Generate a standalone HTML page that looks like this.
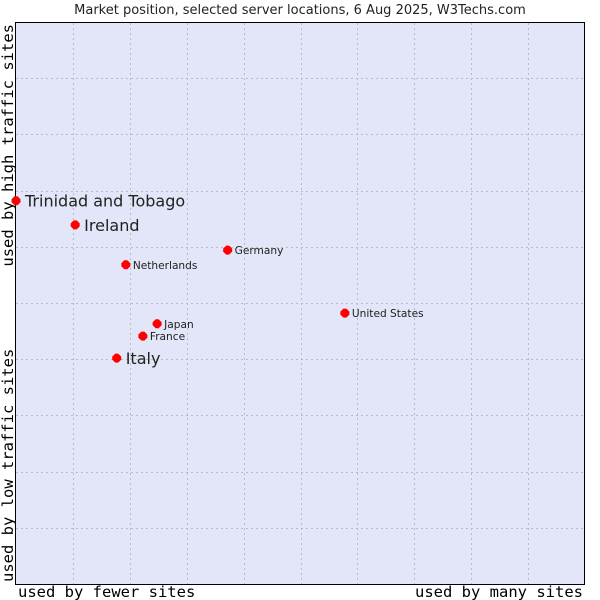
<!DOCTYPE html>
<html><head><meta charset="utf-8"><style>
html,body{margin:0;padding:0;background:#fff;width:600px;height:600px;overflow:hidden}
svg text{font-family:"DejaVu Sans","Liberation Sans",sans-serif;fill:#222}
.mono{font-family:"DejaVu Sans Mono","Liberation Mono",monospace !important;fill:#000 !important}
</style></head><body>
<svg id="chart" width="600" height="600" xmlns="http://www.w3.org/2000/svg">
<text x="300" y="14" text-anchor="middle" font-size="13">Market position, selected server locations, 6 Aug 2025, W3Techs.com</text>
<rect x="15.5" y="22.5" width="569" height="562" fill="#e3e5f8" stroke="#000" stroke-width="1"/>
<g id="grid"></g>
<g id="points"></g>
<text class="mono" x="18" y="597" font-size="15.5">used by fewer sites</text>
<text class="mono" x="583" y="597" text-anchor="end" font-size="15.5">used by many sites</text>
<text class="mono" transform="translate(13,24) rotate(-90)" text-anchor="end" font-size="15.5">used by high traffic sites</text>
<text class="mono" transform="translate(13,582) rotate(-90)" font-size="15.5">used by low traffic sites</text>
</svg>
<script>
const countries = ["Trinidad and Tobago","Ireland","Germany","Netherlands","United States","Japan","France","Italy"];
const usageX = [0, 10.4, 37.2, 19.3, 57.8, 24.8, 22.3, 17.7];
const trafficY = [68.2, 63.9, 59.4, 56.8, 48.2, 46.3, 44.1, 40.2];
const highlighted = [true, true, false, false, false, false, false, true];

const X0=16, X1=585, Y0=584, Y1=22;
const sx = v => X0 + (X1-X0)*v/100;
const sy = v => Y0 - (Y0-Y1)*v/100;
const NS="http://www.w3.org/2000/svg";
const grid=document.getElementById('grid');
for(let i=1;i<10;i++){
  const gx=Math.round(sx(i*10))+0.5, gy=Math.round(sy(i*10))+0.5;
  const lv=document.createElementNS(NS,'line');
  
  
  lv.setAttribute('x1',gx);lv.setAttribute('x2',gx);lv.setAttribute('y1',23);lv.setAttribute('y2',584);
  lv.setAttribute('stroke','#bbb');lv.setAttribute('stroke-dasharray','2,3');
  grid.appendChild(lv);
  const lh=document.createElementNS(NS,'line');
  
  
  lh.setAttribute('y1',gy);lh.setAttribute('y2',gy);lh.setAttribute('x1',16);lh.setAttribute('x2',585);
  lh.setAttribute('stroke','#bbb');lh.setAttribute('stroke-dasharray','2,3');
  grid.appendChild(lh);
}
const pts=document.getElementById('points');
countries.forEach((c,i)=>{
  const px=sx(usageX[i]), py=sy(trafficY[i]);
  const m=document.createElementNS(NS,'path');
  
  
  m.setAttribute('d',`M${px-4.5},${py-1.5} L${px-1.5},${py-4.5} L${px+1.5},${py-4.5} L${px+4.5},${py-1.5} L${px+4.5},${py+1.5} L${px+1.5},${py+4.5} L${px-1.5},${py+4.5} L${px-4.5},${py+1.5} Z`);
  m.setAttribute('fill','#ff0000');
  pts.appendChild(m);
  const t=document.createElementNS(NS,'text');
  
  
  const big=highlighted[i];
  t.setAttribute('x',px+(big?9:7));
  t.setAttribute('y',py+(big?6:4));
  t.setAttribute('font-size',big?16:10.6);
  t.textContent=c;
  pts.appendChild(t);
});
</script>
</body></html>
